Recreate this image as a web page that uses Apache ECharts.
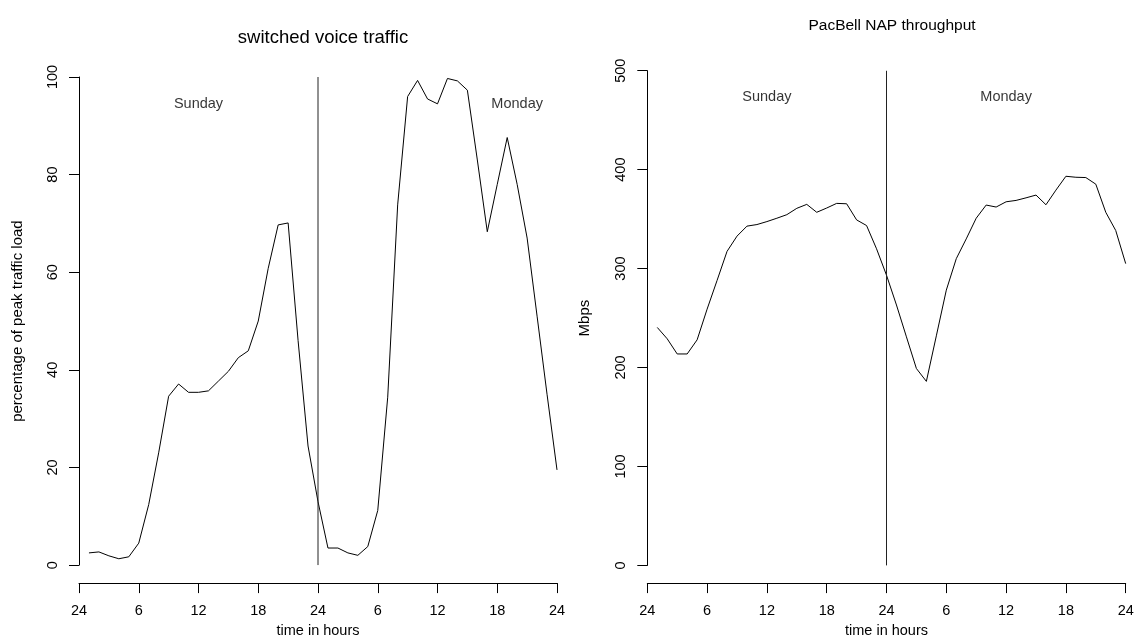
<!DOCTYPE html>
<html>
<head>
<meta charset="utf-8">
<script src="https://cdn.jsdelivr.net/npm/echarts@6/dist/echarts.min.js"></script>
<style>
html,body{margin:0;padding:0;background:#fff;}
#chart{width:1137px;height:643px;}
</style>
</head>
<body>
<div id="chart"></div>
<script>
// hour index (1..48) over Sunday and Monday
const hours = [1,2,3,4,5,6,7,8,9,10,11,12,13,14,15,16,17,18,19,20,21,22,23,24,
               25,26,27,28,29,30,31,32,33,34,35,36,37,38,39,40,41,42,43,44,45,46,47,48];
// switched voice traffic, percentage of peak load
const voiceLoad = [2.5,2.7,1.9,1.3,1.7,4.5,12.4,23,34.6,37.1,
                   35.4,35.4,35.7,37.7,39.7,42.5,43.9,50.0,60.8,69.7,
                   70.1,46,24.4,13.0,3.5,3.5,2.5,2.0,3.8,11.2,
                   34.4,73.8,96.0,99.3,95.5,94.5,99.7,99.2,97.3,83,
                   68.3,78,87.6,78,67,51,35,19.5];
// PacBell NAP throughput, Mbps
const napMbps = [240.5,229,213.7,213.7,228,259,288,317.4,332.8,342.9,
                 344.5,347.5,350.9,354.5,360.9,364.9,356.9,361.2,365.9,365.5,
                 349.2,343.5,320,293.3,263.2,231,199,186,232,278.2,
                 310,330,350.9,364.2,362.2,367.5,368.9,371.5,374.3,364.5,
                 379.3,393.3,392.3,392,385.3,356.9,338.5,305];
const xTickLabels = ['24','6','12','18','24','6','12','18','24'];
const dayNames = ['Sunday','Monday'];
const dayBoundary = 24;
const titles = ['switched voice traffic','PacBell NAP throughput'];
const yNames = ['percentage of peak traffic load','Mbps'];
const xName = 'time in hours';

const FONT = "'Liberation Sans', Arial, Helvetica, sans-serif";
const chart = echarts.init(document.getElementById('chart'), null, {renderer:'canvas'});

function xAxisCfg(gi, off) {
  return {
    type:'value', gridIndex:gi, min:0, max:48, interval:6, offset:off,
    axisLine:{show:true, onZero:false, lineStyle:{color:'#000', width:1}},
    axisTick:{show:true, length:10, lineStyle:{color:'#000'}},
    splitLine:{show:false},
    axisLabel:{margin:20, color:'#000', fontSize:14.5, fontFamily:FONT,
      formatter:(v)=>xTickLabels[Math.round(v/6)]},
    name:xName, nameLocation:'middle', nameGap: gi===0 ? 37 : 39,
    nameTextStyle:{color:'#000', fontSize:14.5, fontFamily:FONT}
  };
}
function yAxisCfg(gi, max, interval, gap) {
  return {
    type:'value', gridIndex:gi, min:0, max:max, interval:interval,
    axisLine:{show:true, lineStyle:{color:'#000', width:1}},
    axisTick:{show:true, length:10, lineStyle:{color:'#000'}},
    splitLine:{show:false},
    axisLabel:{rotate:90, margin:19, color:'#000', fontSize:14.5, fontFamily:FONT},
    name:yNames[gi], nameLocation:'middle', nameGap:gap,
    nameTextStyle:{color:'#000', fontSize:15, fontFamily:FONT}
  };
}
function seriesFor(gi, values, ymax, labelY) {
  return [
    {type:'line', xAxisIndex:gi, yAxisIndex:gi, data:hours.map((h,i)=>[h, values[i]]),
     showSymbol:false, symbol:'none', lineStyle:{color:'#000', width:1}, silent:true, animation:false},
    {type:'line', xAxisIndex:gi, yAxisIndex:gi, data:[[dayBoundary,0],[dayBoundary,ymax]],
     showSymbol:false, symbol:'none', lineStyle:{color:'#222', width:1}, silent:true, animation:false},
    {type:'scatter', xAxisIndex:gi, yAxisIndex:gi, symbolSize:0, silent:true, animation:false,
     data: gi===0 ? [[12,labelY,dayNames[0]],[44,labelY,dayNames[1]]]
                  : [[12,labelY,dayNames[0]],[36,labelY,dayNames[1]]],
     label:{show:true, position:'inside', formatter:(p)=>p.value[2], color:'#000', fontSize:14.5, fontFamily:FONT}}
  ];
}

chart.setOption({
  animation:false,
  backgroundColor:'#fff',
  title:[
    {text:titles[0], left:318, top:23, textAlign:'center',
     textStyle:{fontSize:18.5, fontWeight:'normal', color:'#000', fontFamily:FONT}},
    {text:titles[1], left:887, top:13, textAlign:'center',
     textStyle:{fontSize:15.5, fontWeight:'normal', color:'#000', fontFamily:FONT}}
  ],
  grid:[
    {left:79, top:77, width:478, height:498},
    {left:647.3, top:70.7, width:478.4, height:498.3}
  ],
  xAxis:[xAxisCfg(0,18), xAxisCfg(1,17.7)],
  yAxis:[yAxisCfg(0,100,20,54), yAxisCfg(1,500,100,55)],
  series:[].concat(seriesFor(0, voiceLoad, 100, 94.5), seriesFor(1, napMbps, 500, 473))
});
</script>
</body>
</html>
